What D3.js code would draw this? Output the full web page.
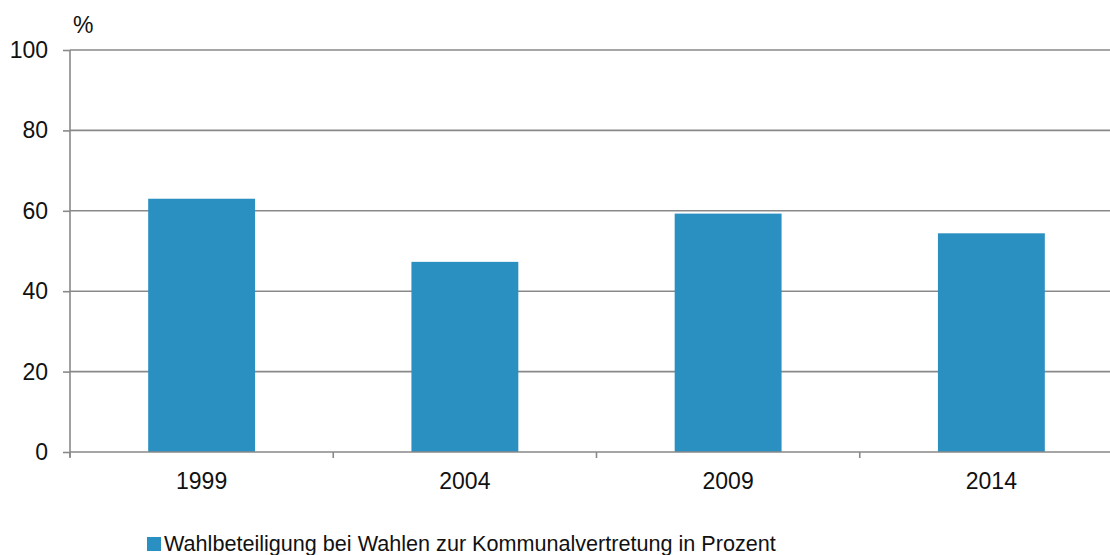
<!DOCTYPE html>
<html><head><meta charset="utf-8">
<script src="https://cdn.jsdelivr.net/npm/d3@7"></script>
<style>body{margin:0;background:#fff}svg{display:block;font-family:"Liberation Sans",Arial,sans-serif}</style>
</head><body><svg id="c" width="1110" height="555"></svg>
<script>
const categories = ["1999","2004","2009","2014"];
const values = [63.0, 47.3, 59.3, 54.4];
const yTicks = [0,20,40,60,80,100];
const seriesName = "Wahlbeteiligung bei Wahlen zur Kommunalvertretung in Prozent";

const svg = d3.select("#c");
const x = d3.scaleBand().domain(categories).range([70,1123]).paddingInner(0.594).paddingOuter(0.297);
const y = d3.scaleLinear().domain([0,100]).range([452,50]);
const grid = "#898989", txt = "#111111", bar = "#2a8fc1";

svg.append("g").selectAll("line").data(yTicks.filter(d=>d>0)).join("line")
  .attr("x1",70).attr("x2",1110).attr("y1",d=>y(d)).attr("y2",d=>y(d))
  .attr("stroke",grid).attr("stroke-width",1.6);

svg.append("g").selectAll("rect").data(values).join("rect")
  .attr("x",(d,i)=>x(categories[i])).attr("width",x.bandwidth())
  .attr("y",d=>y(d)).attr("height",d=>y(0)-y(d)).attr("fill",bar);

// y axis
const ya = svg.append("g").attr("transform","translate(70,0)")
  .call(d3.axisLeft(y).tickValues(yTicks).tickSize(7).tickPadding(15));
ya.select(".domain").attr("stroke",grid).attr("stroke-width",1.6).attr("d","M0,50V457");
ya.selectAll(".tick line").attr("stroke",grid).attr("stroke-width",1.6);
ya.selectAll(".tick text").attr("fill",txt).attr("dy","0.33em").style("font-size","23px").style("font-family","Liberation Sans, Arial, sans-serif");

// x axis
svg.append("line").attr("x1",70).attr("x2",1110).attr("y1",y(0)).attr("y2",y(0)).attr("stroke",grid).attr("stroke-width",1.6);
const bounds = categories.map(c=>x(c)-x.step()*x.paddingInner()/2);
svg.append("g").selectAll("line").data(bounds).join("line")
  .attr("x1",d=>d).attr("x2",d=>d).attr("y1",y(0)).attr("y2",y(0)+6)
  .attr("stroke",grid).attr("stroke-width",1.6);
svg.append("g").selectAll("text").data(categories).join("text")
  .attr("x",d=>x(d)+x.bandwidth()/2).attr("y",488.5).attr("text-anchor","middle")
  .attr("fill",txt).style("font-size","23px").text(d=>d);

svg.append("text").attr("x",73).attr("y",33).attr("fill",txt).style("font-size","23px").text("%");

// legend
svg.append("rect").attr("x",147).attr("y",537).attr("width",14).attr("height",14).attr("fill",bar);
svg.append("text").attr("x",164).attr("y",551).attr("fill",txt).style("font-size","21.6px").text(seriesName);
</script></body></html>
